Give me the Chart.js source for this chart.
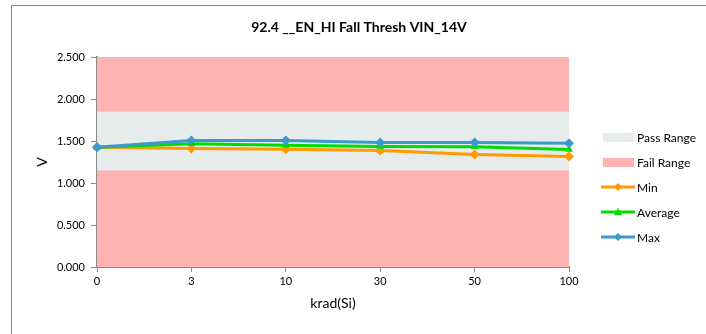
<!DOCTYPE html>
<html>
<head>
<meta charset="utf-8">
<script src="https://cdn.jsdelivr.net/npm/chart.js@4"></script>
<style>
  html,body{margin:0;padding:0;background:#fff;}
  #wrap{position:relative;width:706px;height:334px;overflow:hidden;}
  #frame{position:absolute;left:11px;top:5px;width:720px;height:360px;border-left:1px solid #8a8a8a;border-top:1px solid #8a8a8a;pointer-events:none;}
  canvas{position:absolute;left:0;top:0;}
</style>
</head>
<body>
<div id="wrap">
  <canvas id="c" width="706" height="334"></canvas>
  <div id="frame"></div>
</div>
<script>
const chartTitle = "92.4 __EN_HI Fall Thresh VIN_14V";
const categories = ["0", "3", "10", "30", "50", "100"];
const minValues = [1.425, 1.410, 1.403, 1.388, 1.340, 1.315];
const avgValues = [1.425, 1.466, 1.450, 1.434, 1.432, 1.398];
const maxValues = [1.427, 1.505, 1.505, 1.482, 1.482, 1.474];
const passLow = 1.15;
const passHigh = 1.85;
const yTicks = [0, 0.5, 1.0, 1.5, 2.0, 2.5];
const xTitle = "krad(Si)";
const yTitle = "V";

const FONT = "Lato, 'Open Sans', sans-serif";
const colMin = "#FF9A00", colAvg = "#00DC00", colMax = "#3A9AD0";
const colFail = "#FFB3B3", colPass = "#E6EBEB";

const bands = {
  id: 'bands',
  beforeDatasetsDraw(chart) {
    const {ctx, chartArea: a, scales: {y}} = chart;
    ctx.save();
    ctx.fillStyle = colFail;
    ctx.fillRect(a.left, y.getPixelForValue(yTicks[yTicks.length-1]), a.right - a.left, y.getPixelForValue(0) - y.getPixelForValue(yTicks[yTicks.length-1]));
    ctx.fillStyle = colPass;
    const t = y.getPixelForValue(passHigh), b = y.getPixelForValue(passLow);
    ctx.fillRect(a.left, t, a.right - a.left, b - t);
    ctx.restore();
  }
};

function diamond(ctx, x, y, r, c) {
  ctx.fillStyle = c;
  ctx.beginPath();
  ctx.moveTo(x, y - r); ctx.lineTo(x + r, y); ctx.lineTo(x, y + r); ctx.lineTo(x - r, y); ctx.closePath();
  ctx.fill();
}
function tri(ctx, x, y, r, c) {
  ctx.fillStyle = c;
  ctx.beginPath();
  ctx.moveTo(x, y - r); ctx.lineTo(x + r, y + r*0.8); ctx.lineTo(x - r, y + r*0.8); ctx.closePath();
  ctx.fill();
}

const deco = {
  id: 'deco',
  afterDraw(chart) {
    const ctx = chart.ctx;
    ctx.save();
    ctx.fillStyle = '#000';
    ctx.font = "bold 14px " + FONT;
    ctx.textAlign = 'center';
    ctx.textBaseline = 'middle';
    ctx.fillText(chartTitle, 359, 27);
    // legend
    const items = [
      {label: 'Pass Range', type: 'box', color: colPass},
      {label: 'Fail Range', type: 'box', color: colFail},
      {label: 'Min', type: 'line', color: colMin, m: 'd'},
      {label: 'Average', type: 'line', color: colAvg, m: 't'},
      {label: 'Max', type: 'line', color: colMax, m: 'd'}
    ];
    ctx.font = "12px " + FONT;
    ctx.textAlign = 'left';
    items.forEach((it, i) => {
      const yy = 137 + i * 25;
      if (it.type === 'box') {
        ctx.fillStyle = it.color;
        ctx.fillRect(603, yy - 4, 31, 9);
      } else {
        ctx.strokeStyle = it.color;
        ctx.lineWidth = 3;
        ctx.beginPath(); ctx.moveTo(601, yy); ctx.lineTo(635, yy); ctx.stroke();
        if (it.m === 'd') diamond(ctx, 618, yy, 4, it.color); else tri(ctx, 618, yy, 4, it.color);
      }
      ctx.fillStyle = '#000';
      ctx.fillText(it.label, 637, yy + 1);
    });
    ctx.restore();
  }
};

const ds = (label, data, color, style) => ({
  label, data, borderColor: color, backgroundColor: color,
  borderWidth: 3, pointStyle: style, pointRadius: style === 'triangle' ? 4.5 : 5,
  pointBorderWidth: 0, pointHoverRadius: 5, tension: 0, fill: false
});

new Chart(document.getElementById('c'), {
  type: 'line',
  data: {
    labels: categories,
    datasets: [
      ds('Max', maxValues, colMax, 'rectRot'),
      ds('Average', avgValues, colAvg, 'triangle'),
      ds('Min', minValues, colMin, 'rectRot')
    ]
  },
  options: {
    responsive: false,
    animation: false,
    devicePixelRatio: 1,
    layout: {padding: {left: 0, right: 137, top: 57, bottom: 0}},
    plugins: {legend: {display: false}, title: {display: false}, tooltip: {enabled: false}},
    scales: {
      x: {
        type: 'category',
        offset: false,
        afterFit: s => { s.height = 67; },
        grid: {drawOnChartArea: false, drawTicks: true, tickLength: 5, color: '#8a8a8a', lineWidth: 1},
        border: {color: '#8a8a8a', width: 2},
        ticks: {font: {family: FONT, size: 11}, color: '#000', padding: 3, maxRotation: 0},
        title: {display: true, text: xTitle, font: {family: FONT, size: 14}, color: '#000', padding: {top: 0, bottom: 22}}
      },
      y: {
        min: 0, max: 2.5,
        afterFit: s => { s.width = 97; },
        afterBuildTicks: s => { s.ticks = yTicks.map(v => ({value: v})); },
        grid: {drawOnChartArea: false, drawTicks: true, tickLength: 6, color: '#8a8a8a', lineWidth: 1},
        border: {color: '#8a8a8a', width: 2},
        ticks: {font: {family: FONT, size: 11}, color: '#000', padding: 6, callback: v => Number(v).toFixed(3)},
        title: {display: true, text: yTitle, font: {family: FONT, size: 14}, color: '#000', padding: {top: 34, bottom: 0}}
      }
    }
  },
  plugins: [bands, deco]
});
</script>
</body>
</html>
